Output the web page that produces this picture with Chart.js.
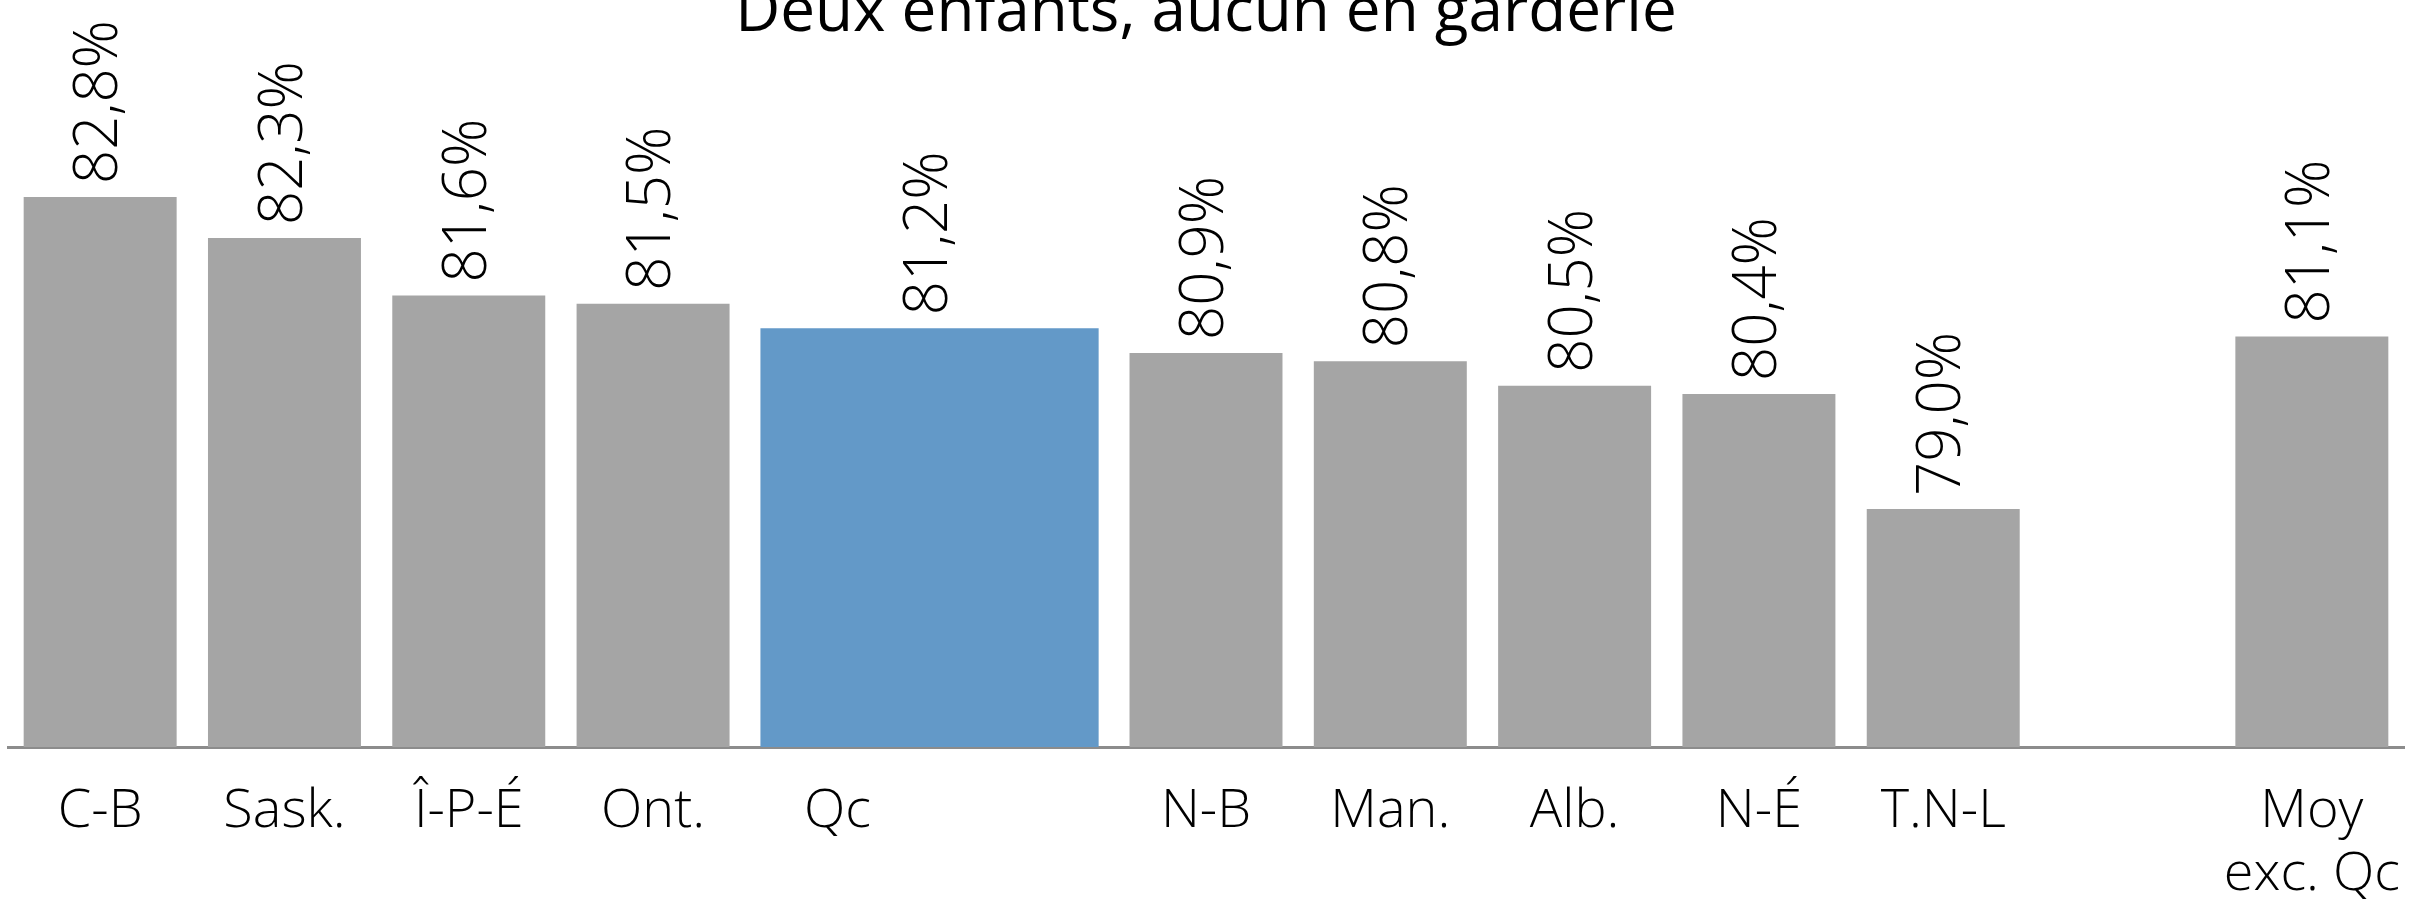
<!DOCTYPE html>
<html lang="fr">
<head>
<meta charset="utf-8">
<title>Deux enfants, aucun en garderie</title>
<script src="https://cdn.jsdelivr.net/npm/chart.js@4.4.1/dist/chart.umd.min.js"></script>
<style>
  html, body { margin: 0; padding: 0; background: #ffffff; }
  canvas { display: block; }
</style>
</head>
<body>
<canvas id="chart" width="2415" height="901"></canvas>
<script>
'use strict';

// Chart data
const titleText = 'Deux enfants, aucun en garderie';
const categories = ['C-B', 'Sask.', 'Î-P-É', 'Ont.', 'Qc', '', 'N-B', 'Man.', 'Alb.', 'N-É', 'T.N-L', '', ['Moy', 'exc. Qc']];
const otherValues = [82.8, 82.3, 81.6, 81.5, null, null, 80.9, 80.8, 80.5, 80.4, 79.0, null, 81.1];
// Quebec bar sits across two slots, so it lives on its own hidden axis (slot edges)
const qcSlots = ['', '', '', '', '', 'Qc', '', '', '', '', '', '', '', ''];
const qcValue = 81.2;

const greyColor = '#a5a5a5';
const blueColor = '#6399c8';
const lightFont = '"Open Sans", "Segoe UI", "DejaVu Sans", sans-serif';

function formatPct(v) {
    return v.toFixed(1).replace('.', ',') + '%';
}

// Rotated value labels above each bar
const valueLabels = {
    id: 'valueLabels',
    afterDatasetsDraw(chart) {
        const ctx = chart.ctx;
        ctx.save();
        ctx.fillStyle = '#000000';
        ctx.font = '300 60px ' + lightFont;
        ctx.textAlign = 'left';
        ctx.textBaseline = 'middle';
        chart.data.datasets.forEach((ds, di) => {
            const meta = chart.getDatasetMeta(di);
            meta.data.forEach((bar, i) => {
                const v = ds.data[i];
                if (v === null || v === undefined) return;
                ctx.save();
                ctx.translate(bar.x, bar.y - 13);
                ctx.rotate(-Math.PI / 2);
                ctx.fillText(formatPct(v), 0, 0);
                ctx.restore();
            });
        });
        ctx.restore();
    }
};

// the long last label should not squeeze the plot area
function noSidePadding(scale) {
    scale.paddingLeft = 0;
    scale.paddingRight = 0;
}

const ctx = document.getElementById('chart').getContext('2d');
new Chart(ctx, {
    type: 'bar',
    data: {
        labels: categories,
        datasets: [
            {
                label: 'Provinces',
                data: otherValues,
                backgroundColor: greyColor,
                xAxisID: 'x',
                grouped: false,
                categoryPercentage: 1,
                barPercentage: 0.83
            },
            {
                label: 'Qc',
                data: qcSlots.map(s => s === 'Qc' ? qcValue : null),
                backgroundColor: blueColor,
                xAxisID: 'xq',
                grouped: false,
                categoryPercentage: 1,
                barPercentage: 1.835
            }
        ]
    },
    options: {
        responsive: false,
        animation: false,
        layout: {
            padding: { left: 8, right: 11, top: 0, bottom: 0 }
        },
        plugins: {
            legend: { display: false },
            tooltip: { enabled: false },
            title: {
                display: true,
                text: titleText,
                color: '#000000',
                font: { family: lightFont, size: 62, weight: '400', lineHeight: 1.2 },
                padding: { top: -24, bottom: -50.4 }
            }
        },
        scales: {
            x: {
                type: 'category',
                offset: true,
                grid: { display: false, drawTicks: false },
                border: { display: true, color: '#8c8c8c', width: 3 },
                ticks: {
                    color: '#000000',
                    font: { family: lightFont, size: 54, weight: '300', lineHeight: 1.15 },
                    padding: 34,
                    autoSkip: false,
                    maxRotation: 0
                },
                afterFit(scale) {
                    scale.height = 154;
                    noSidePadding(scale);
                }
            },
            xq: {
                type: 'category',
                labels: qcSlots,
                offset: false,
                display: false,
                grid: { display: false },
                afterFit: noSidePadding
            },
            y: {
                display: false,
                min: 76.1,
                max: 85.2
            }
        }
    },
    plugins: [valueLabels]
});
</script>
</body>
</html>
